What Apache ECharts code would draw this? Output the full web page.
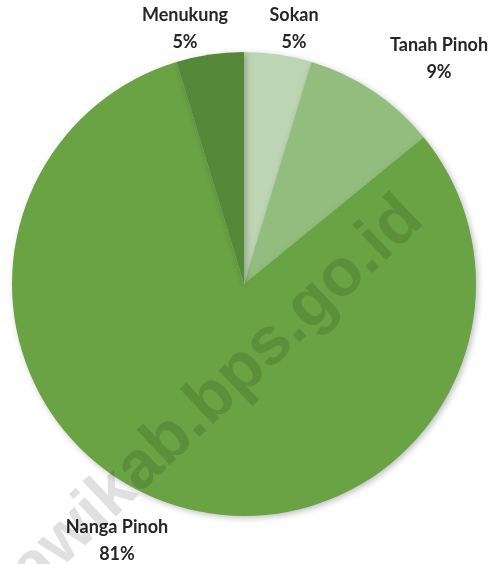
<!doctype html>
<html>
    <head>
        <meta charset="utf-8">
        <style>
            html, body { margin: 0; padding: 0; background: #fff; }
            #main { width: 494px; height: 564px; }
        </style>
    </head>
    <body>
        <div id="main"></div>
        <script src="https://cdn.jsdelivr.net/npm/echarts@6/dist/echarts.min.js"></script>
        <script>
            var kecamatan = ['Sokan', 'Tanah Pinoh', 'Nanga Pinoh', 'Menukung'];
            var persen = [4.7, 9.4, 81.2, 4.7];
            var warna = ['#bcd5b2', '#93bd7d', '#69a343', '#548a37'];
            // label centres, as placed by the spreadsheet's "best fit"
            var posisiLabel = [[294, 29], [439, 59], [117, 541], [185, 29]];

            var chart = echarts.init(document.getElementById('main'));

            var data = [];
            for (var i = 0; i < kecamatan.length; i++) {
                data.push({
                    name: kecamatan[i],
                    value: persen[i],
                    itemStyle: { color: warna[i] }
                });
            }

            chart.setOption({
                animation: false,
                graphic: [{
                    type: 'text',
                    x: 413,
                    y: 209,
                    rotation: 43.5 * Math.PI / 180,
                    z: 100,
                    silent: true,
                    style: {
                        text: 'melawikab.bps.go.id',
                        font: 'bold 67px "Liberation Sans"',
                        fill: 'rgba(0,0,0,0.12)',
                        align: 'right',
                        verticalAlign: 'middle'
                    }
                }],
                series: [{
                    type: 'pie',
                    center: [244, 284],
                    radius: 232,
                    startAngle: 90,
                    clockwise: true,
                    data: data,
                    itemStyle: {
                        shadowBlur: 6,
                        shadowOffsetX: 2,
                        shadowOffsetY: 2,
                        shadowColor: 'rgba(0,0,0,0.25)'
                    },
                    label: {
                        position: 'outside',
                        formatter: function (p) {
                            return p.name + '\n' + Math.round(p.percent) + '%';
                        },
                        fontFamily: 'Lato',
                        fontWeight: 'bold',
                        fontSize: 18,
                        lineHeight: 27,
                        color: '#262626',
                        overflow: 'none'
                    },
                    labelLine: { show: false },
                    labelLayout: function (params) {
                        var p = posisiLabel[params.dataIndex];
                        return {
                            x: p[0],
                            y: p[1],
                            align: 'center',
                            verticalAlign: 'middle'
                        };
                    }
                }]
            });
        </script>
    </body>
</html>
